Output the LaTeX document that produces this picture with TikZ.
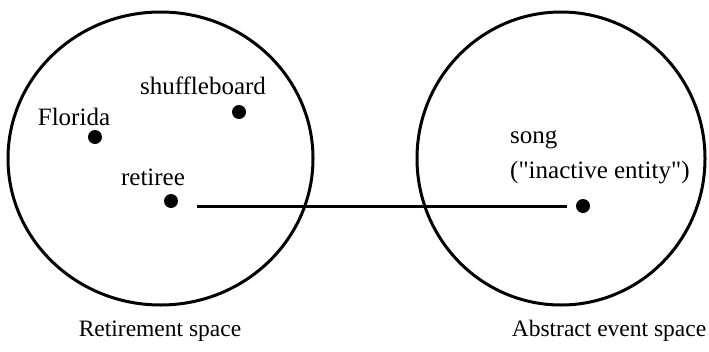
\documentclass[tikz,border=0pt]{standalone}
\usepackage{fontspec}
\setmainfont{Liberation Serif}[Ligatures=TeXOff]
\usetikzlibrary{positioning}

\begin{document}
\begin{tikzpicture}[x=1pt, y=-1pt,
  space/.style={draw, line width=3pt},
  spot/.style={circle, fill, inner sep=0pt, minimum size=14pt},
  lbl/.style={inner sep=0pt, font=\fontsize{25}{29}\selectfont},
  caption/.style={inner sep=0pt, anchor=base, font=\fontsize{23.5}{27}\selectfont},
  link/.style={line width=3pt},
]
\useasboundingbox (0,0) rectangle (709,351);
% the two spaces
\draw[space] (160.5,158.5) ellipse [x radius=152.5, y radius=146.5];
\draw[space] (561,158.5) ellipse [x radius=144, y radius=146.5];
% elements
\node[spot] (florida) at (95,137) {};
\node[spot] (shuffle) at (239,112) {};
\node[spot] (retiree) at (171,201) {};
\node[spot] (song) at (583,206) {};
\node[lbl] at (74,117) {Florida};
\node[lbl] at (203,86) {shuffleboard};
\node[lbl] at (153,177) {retiree};
\node[lbl, anchor=west] at (510,140) {song};
\node[lbl, anchor=west] at (510,173) {("inactive entity")};
\node[caption] (rspace) at (160,336) {Retirement space};
\node[caption] (aspace) at (609,336) {Abstract event space};
\draw[link, shorten <=26pt, shorten >=16pt] (retiree.center |- song.center) -- (song.center);
\end{tikzpicture}
\end{document}
